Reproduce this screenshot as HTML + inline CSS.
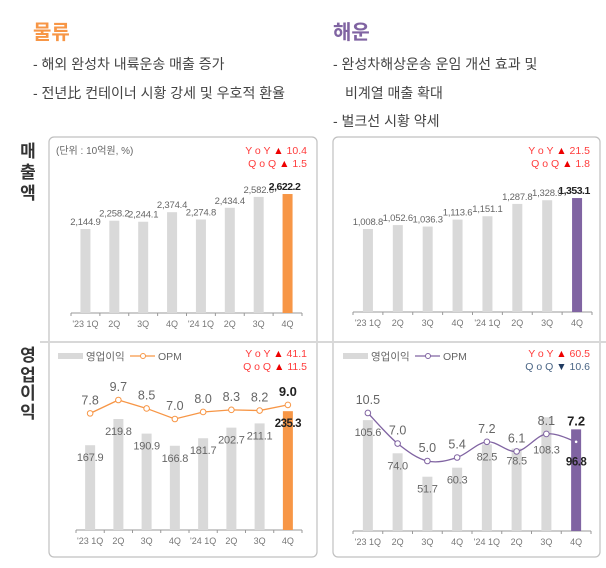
<!DOCTYPE html>
<html><head><meta charset="utf-8"><style>
body{margin:0;background:#fff;}
svg text{font-family:"Liberation Sans","Noto Sans CJK KR",sans-serif;}
</style></head><body>
<svg id="s" width="606" height="563" viewBox="0 0 606 563" xmlns="http://www.w3.org/2000/svg">
<g font-family="Liberation Sans, Noto Sans CJK KR, sans-serif">
<text x="33" y="39" font-size="20" font-weight="bold" fill="#f79646">물류</text>
<text x="333" y="39" font-size="20" font-weight="bold" fill="#8064a2">해운</text>
<g font-size="14" fill="#444">
<text x="33" y="69">- 해외 완성차 내륙운송 매출 증가</text>
<text x="33" y="98">- 전년比 컨테이너 시황 강세 및 우호적 환율</text>
<text x="333" y="69">- 완성차해상운송 운임 개선 효과 및</text>
<text x="345" y="98">비계열 매출 확대</text>
<text x="333" y="126">- 벌크선 시황 약세</text>
</g>
</g>
<g font-size="17" font-weight="bold" fill="#333" text-anchor="middle">
<text x="28" y="157">매</text>
<text x="28" y="178">출</text>
<text x="28" y="199">액</text>
<text x="28" y="361">영</text>
<text x="28" y="381">업</text>
<text x="28" y="399">이</text>
<text x="28" y="418">익</text>
</g>
<rect x="49" y="137" width="268" height="420" rx="5" fill="none" stroke="#c0c0c0" stroke-width="1.2"/>
<rect x="333" y="137" width="267" height="420" rx="5" fill="none" stroke="#c0c0c0" stroke-width="1.2"/>
<line x1="40" y1="342" x2="606" y2="342" stroke="#d8d8d8" stroke-width="2"/>
<text x="56" y="154" font-size="10" fill="#666">(단위 : 10억원, %)</text>
<g id="charts"></g>
</svg>
<script>
const cats=["'23 1Q","2Q","3Q","4Q","'24 1Q","2Q","3Q","4Q"];
const logRev=[2144.9,2258.2,2244.1,2374.4,2274.8,2434.4,2582.6,2622.2];
const shipRev=[1008.8,1052.6,1036.3,1113.6,1151.1,1287.8,1328.9,1353.1];
const logOp=[167.9,219.8,190.9,166.8,181.7,202.7,211.1,235.3];
const logOpm=[7.8,9.7,8.5,7.0,8.0,8.3,8.2,9.0];
const shipOp=[105.6,74.0,51.7,60.3,82.5,78.5,108.3,96.8];
const shipOpm=[10.5,7.0,5.0,5.4,7.2,6.1,8.1,7.2];
const logRevYoY="10.4", logRevQoQ="1.5", shipRevYoY="21.5", shipRevQoQ="1.8";
const logOpYoY="41.1", logOpQoQ="11.5", shipOpYoY="60.5", shipOpQoQ="10.6";

const NS="http://www.w3.org/2000/svg";
const root=document.getElementById('charts');
function mk(tag,attrs,parent){const e=document.createElementNS(NS,tag);for(const k in attrs)e.setAttribute(k,attrs[k]);(parent||root).appendChild(e);return e;}
function fmt(v){return v.toLocaleString('en-US',{minimumFractionDigits:1,maximumFractionDigits:1});}

function chart(o){
  const g=mk('g',{});
  
  
  const n=o.vals.length, step=(o.x1-o.x0)/n;
  const xc=i=>o.x0+step*(i+0.5);
  const y=v=>o.base-o.k*(v-o.v0);
  const ax=mk('line',{x1:o.x0,x2:o.x1,y1:o.base,y2:o.base,stroke:'#999','stroke-width':1},g);
  
  
  for(let i=0;i<=n;i++){const t=mk('line',{x1:o.x0+step*i,x2:o.x0+step*i,y1:o.base,y2:o.base+3,stroke:'#999'},g);
    
    }
  cats.forEach((c,i)=>{const t=mk('text',{x:xc(i),y:o.base+14,'font-size':9,fill:'#777','text-anchor':'middle'},g);t.textContent=c;
    
    });
  o.vals.forEach((v,i)=>{
    const last=i===n-1, top=y(v);
    const b=mk('rect',{x:xc(i)-5,y:top,width:10,height:o.base-top,fill:last?o.color:'#d9d9d9'},g);
    
    
    let ly, fs=o.inside?11:9.5;
    if(o.inside){ly=top+(o.farIdx&&o.farIdx.includes(i)?36:16);}else ly=top-4;
    const t=mk('text',{x:xc(i)+(last&&!o.inside?-3:0),y:ly,'font-size':last?(o.inside?11.5:10.5):fs,fill:last?'#222':'#666','font-weight':last?'bold':'normal','text-anchor':'middle','letter-spacing':last?'-0.5':'-0.2'},g);
    t.textContent=fmt(v);
    
    
  });
  if(o.line){
    const ly=v=>o.lbase-o.lk*(v-o.lv0);
    const pts=o.line.map((v,i)=>[xc(i),ly(v)]);
    let d='M'+pts[0][0]+','+pts[0][1];
    if(o.smooth){for(let i=0;i<pts.length-1;i++){const p0=pts[Math.max(0,i-1)],p1=pts[i],p2=pts[i+1],p3=pts[Math.min(pts.length-1,i+2)];
      const c1=[p1[0]+(p2[0]-p0[0])/6,p1[1]+(p2[1]-p0[1])/6],c2=[p2[0]-(p3[0]-p1[0])/6,p2[1]-(p3[1]-p1[1])/6];
      d+=` C${c1[0]},${c1[1]} ${c2[0]},${c2[1]} ${p2[0]},${p2[1]}`;}}
    else pts.slice(1).forEach(p=>d+=' L'+p[0]+','+p[1]);
    const pl=mk('path',{d:d,fill:'none',stroke:o.lcolor,'stroke-width':1.3},g);
    
    
    pts.forEach((p,i)=>{
      const last=i===pts.length-1;
      const c=mk('circle',{cx:p[0],cy:p[1],r:last&&o.hideLastMarker?1.3:2.8,fill:'#fff',stroke:last&&o.hideLastMarker?'none':o.lcolor,'stroke-width':1},g);
      
      
      const t=mk('text',{x:p[0],y:last&&o.lastLabelY?y(o.vals[i])-4:p[1]-9,'font-size':last?13:12.5,fill:last?'#222':'#666','font-weight':last?'bold':'normal','text-anchor':'middle'},g);
      t.textContent=o.line[i].toFixed(1);
      
      
    });
  }
  // yoy / qoq
  const y1=mk('text',{x:o.rx,y:o.ry,'font-size':10.5,fill:'#ff3b3b','text-anchor':'end'},g);
  y1.innerHTML='Y o Y <tspan fill="#e00">▲</tspan> '+o.yoy;
  
  
  const down=o.qdown;
  const q1=mk('text',{x:o.rx,y:o.ry+13,'font-size':10.5,fill:down?'#4a6585':'#ff3b3b','text-anchor':'end'},g);
  q1.innerHTML='Q o Q <tspan fill="'+(down?'#1f3a60':'#e00')+'">'+(down?'▼':'▲')+'</tspan> '+o.qoq;
  
  
  if(o.legend){
    const L=mk('g',{},g);
    
    
    const lx=o.legend;
    mk('rect',{x:lx,y:353,width:25,height:6,fill:'#d9d9d9'},L);
    const t1=mk('text',{x:lx+28,y:360,'font-size':10.5,fill:'#666'},L);t1.textContent='영업이익';
    
    
    mk('line',{x1:lx+72,x2:lx+97,y1:356,y2:356,stroke:o.lcolor,'stroke-width':1.3},L);
    mk('circle',{cx:lx+85,cy:356,r:2.5,fill:'#fff',stroke:o.lcolor},L);
    const t2=mk('text',{x:lx+100,y:360,'font-size':10.5,fill:'#666'},L);t2.textContent='OPM';
    
    
  }
}
chart({name:'logistics-revenue-chart',vals:logRev,x0:71,x1:302,base:313,k:0.0733,v0:999,color:'#f79646',rx:307,ry:154,yoy:logRevYoY,qoq:logRevQoQ});
chart({name:'shipping-revenue-chart',vals:shipRev,x0:353,x1:592,base:312,k:0.09,v0:87,color:'#8064a2',rx:590,ry:154,yoy:shipRevYoY,qoq:shipRevQoQ});
chart({name:'logistics-op-chart',vals:logOp,x0:76,x1:302,base:530,k:0.505,v0:0,color:'#f79646',inside:true,rx:307,ry:357,yoy:logOpYoY,qoq:logOpQoQ,
  line:logOpm,lbase:419,lk:7.04,lv0:7.0,lcolor:'#f79646',legend:58});
chart({name:'shipping-op-chart',vals:shipOp,x0:353,x1:591,base:531,k:1.05,v0:0,color:'#8064a2',inside:true,farIdx:[6,7],rx:590,ry:357,yoy:shipOpYoY,qoq:shipOpQoQ,qdown:true,
  line:shipOpm,lbase:461,lk:8.73,lv0:5.0,lcolor:'#8064a2',smooth:true,hideLastMarker:true,lastLabelY:true,legend:343});
</script>
</body></html>
